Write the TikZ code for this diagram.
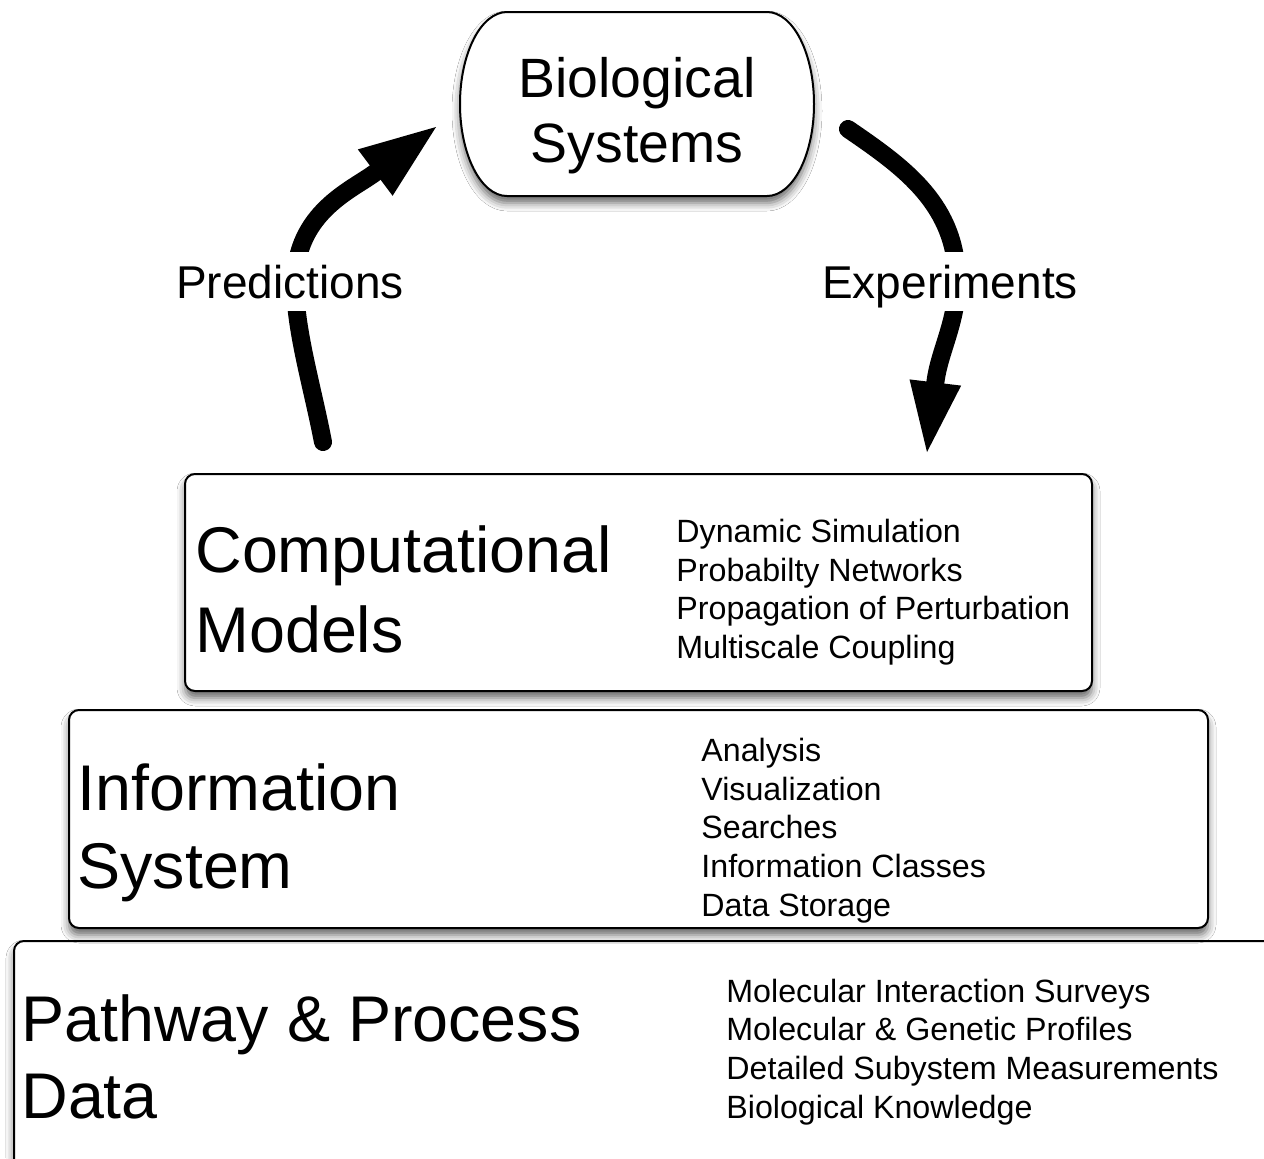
\documentclass[tikz,border=0pt]{standalone}
\usepackage{fontspec}
\setmainfont{Liberation Sans}
\usetikzlibrary{arrows.meta,shadows.blur}

\tikzset{
  softshadow/.style={blur shadow={shadow xshift=0pt, shadow yshift=-3.5pt,
      shadow blur radius=4pt, shadow opacity=60}},
  tier/.style={draw=black, line width=1pt, fill=white, rounded corners=5pt,
      softshadow, inner sep=0pt},
  % multi-line nodes sit on the baseline of their last line
  tiertitle/.style={anchor=base west, inner sep=0pt, align=left},
  tierlist/.style={anchor=base west, inner sep=0pt, align=left,
      font=\fontsize{16.1}{19.3}\selectfont},
  flow/.style={line width=9pt, line cap=round, draw=black, opacity=1},
  flowlabel/.style={fill=white, font=\fontsize{23}{27}\selectfont,
      anchor=base, inner xsep=2pt, inner ysep=6.5pt, text depth=0pt},
}

\begin{document}
\begin{tikzpicture}[x=0.5pt, y=-0.5pt]
  % canvas
  \path[use as bounding box] (0,0) rectangle (1264,1158);
  \fill[white] (0,0) rectangle (1264,1158);
  \clip (0,0) rectangle (1264,1158);

  % cycle arrows, with their labels cutting a gap in the stroke
  \coordinate (pS) at (323,442);
  \coordinate (pM) at (295,282);
  \coordinate (pE) at (436,127);
  \draw[flow, -{Triangle[length=38pt, width=29pt, line width=0pt, fill=black]}]
    (pS) .. controls (312,385) and (295,330) .. (pM)
         .. controls (296,212) and (352,190) .. (pE);
  \node[flowlabel] (pred) at (290,298) {Predictions};

  \coordinate (eS) at (848,129);
  \coordinate (eM) at (957,282);
  \coordinate (eE) at (927,452);
  \draw[flow, -{Triangle[length=35pt, width=26pt, line width=0pt, fill=black]}]
    (eS) .. controls (905,168) and (957,205) .. (eM)
         .. controls (957,322) and (939,352) .. (eE);
  \node[flowlabel] (expt) at (950,298) {Experiments};

  % the three tiers, bottom first
  \node[tier, minimum width=643pt, minimum height=129.5pt] (data) at (657,1070.5) {};
  \node[tier, minimum width=569.5pt, minimum height=109pt] (info) at (638.5,819) {};
  \node[tier, minimum width=453.5pt, minimum height=108.5pt] (comp) at (638.5,582.5) {};

  \node[tiertitle, font=\fontsize{32.3}{40}\selectfont] (comptitle) at (195,652)
    {Computational\\Models};
  \node[tierlist] (complist) at (676,658.5)
    {Dynamic Simulation\\Probabilty Networks\\Propagation of Perturbation\\Multiscale Coupling};

  \node[tiertitle, font=\fontsize{32.3}{39}\selectfont] (infotitle) at (77,888)
    {Information\\System};
  \node[tierlist] (infolist) at (701,916)
    {Analysis\\Visualization\\Searches\\Information Classes\\Data Storage};

  \node[tiertitle, font=\fontsize{32.3}{38.3}\selectfont] (datatitle) at (21,1118)
    {Pathway \& Process\\Data};
  \node[tierlist] (datalist) at (726,1118)
    {Molecular Interaction Surveys\\Molecular \& Genetic Profiles\\Detailed Subystem Measurements\\Biological Knowledge};

  % biological systems: flat top and bottom, half-elliptic ends
  \draw[line width=1pt, fill=white, softshadow]
    (507,12) -- (767,12) arc[start angle=-90, end angle=90, x radius=47, y radius=92]
    -- (507,196) arc[start angle=90, end angle=270, x radius=47, y radius=92] -- cycle;
  \node[anchor=base, inner sep=0pt, align=center,
        font=\fontsize{27.7}{32.5}\selectfont] (bio) at (637,162)
    {Biological\\Systems};
\end{tikzpicture}
\end{document}
